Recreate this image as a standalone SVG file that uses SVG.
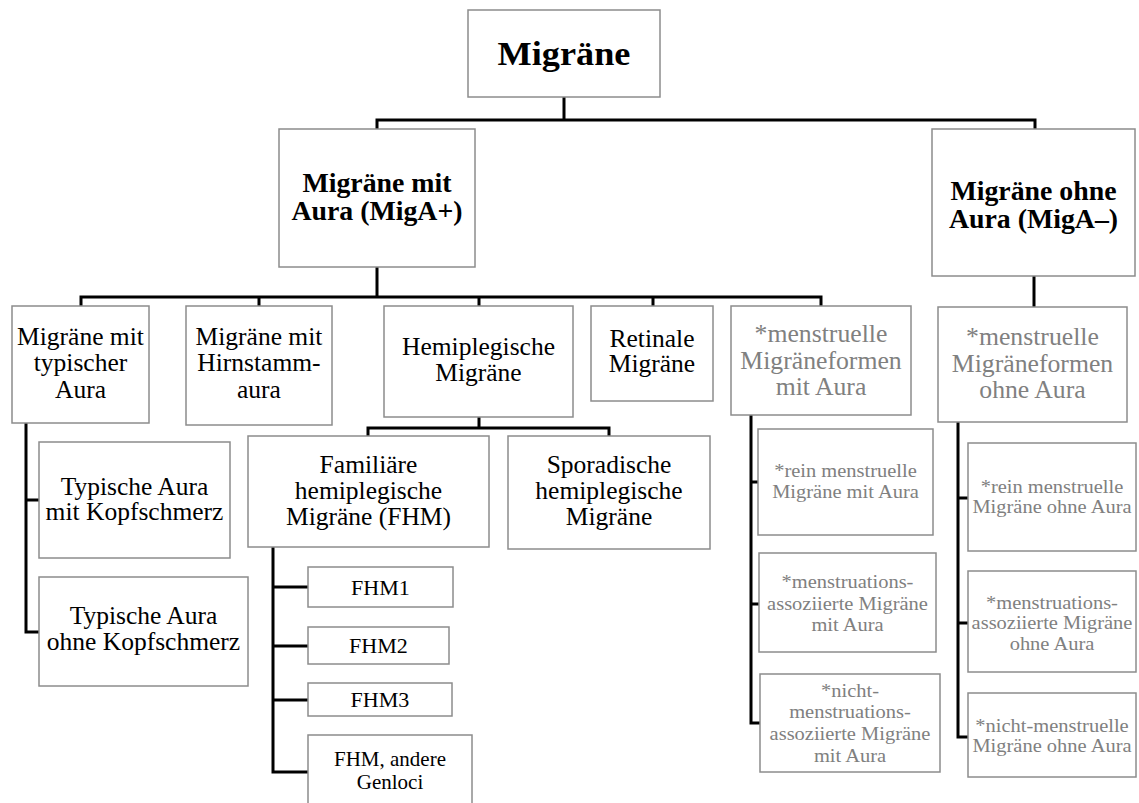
<svg xmlns="http://www.w3.org/2000/svg" width="1139" height="803" viewBox="0 0 1139 803">
<style>
  .box { fill: #ffffff; stroke: #8c8c8c; stroke-width: 1.5; }
  .con { fill: none; stroke: #000000; stroke-width: 3; stroke-linecap: square; }
  text { font-family: "Liberation Serif", "Times New Roman", serif; text-anchor: middle; fill: #000000;
         transform-box: fill-box; transform-origin: center; transform: scaleX(1.05); }
  .root { font-size: 34.5px; font-weight: bold; }
  .l1 { font-size: 26.5px; font-weight: bold; }
  .reg { font-size: 24.3px; }
  .fhm { font-size: 21px; }
  .fhm2l { font-size: 20px; }
  .g1 { font-size: 24.5px; fill: #808080; }
  .g2 { font-size: 19.5px; fill: #808080; }
</style>
<rect width="1139" height="803" fill="#ffffff"/>

<g id="connectors">
  <path class="con" d="M564,97 V120 M377,120 H1035 M377,120 V129 M1035,120 V129"/>
  <path class="con" d="M377,267 V297 M81,297 H821 M81,297 V306 M259,297 V306 M479,297 V306 M653,297 V306 M821,297 V306"/>
  <path class="con" d="M1034,276 V307"/>
  <path class="con" d="M26,423 V632 M26,500 H39 M26,632 H39"/>
  <path class="con" d="M479,417 V428 M368,428 H609 M368,428 V436 M609,428 V436"/>
  <path class="con" d="M273,547 V772 M273,587 H308 M273,646 H308 M273,700 H308 M273,772 H308"/>
  <path class="con" d="M751,415 V723 M751,482 H758 M751,604 H759 M751,723 H760"/>
  <path class="con" d="M958,422 V737 M958,498 H968 M958,623 H968 M958,737 H968"/>
</g>

<g id="root">
  <rect class="box" x="468" y="10" width="192" height="87"/>
  <text class="root" x="564" y="65">Migräne</text>
</g>

<g id="migA_plus">
  <rect class="box" x="279" y="129" width="196" height="138"/>
  <text class="l1" x="377" y="192"><tspan x="377">Migräne mit</tspan><tspan x="377" y="220">Aura (MigA+)</tspan></text>
</g>

<g id="migA_minus">
  <rect class="box" x="932" y="129" width="203" height="147"/>
  <text class="l1" x="1033.5" y="200"><tspan x="1033.5">Migräne ohne</tspan><tspan x="1033.5" y="228">Aura (MigA–)</tspan></text>
</g>

<g id="typische_aura">
  <rect class="box" x="12" y="306" width="137" height="117"/>
  <text class="reg" x="80.5" y="345"><tspan x="80.5">Migräne mit</tspan><tspan x="80.5" y="371.5">typischer</tspan><tspan x="80.5" y="398">Aura</tspan></text>
</g>

<g id="hirnstamm">
  <rect class="box" x="186" y="306" width="146" height="119"/>
  <text class="reg" x="259" y="345"><tspan x="259">Migräne mit</tspan><tspan x="259" y="371.5">Hirnstamm-</tspan><tspan x="259" y="398">aura</tspan></text>
</g>

<g id="hemiplegisch">
  <rect class="box" x="384" y="306" width="189" height="111"/>
  <text class="reg" x="478.5" y="355"><tspan x="478.5">Hemiplegische</tspan><tspan x="478.5" y="381">Migräne</tspan></text>
</g>

<g id="retinal">
  <rect class="box" x="591" y="306" width="122" height="95"/>
  <text class="reg" x="652" y="347"><tspan x="652">Retinale</tspan><tspan x="652" y="372">Migräne</tspan></text>
</g>

<g id="menstruell_mit">
  <rect class="box" x="731" y="306" width="180" height="109"/>
  <text class="g1" x="821" y="342"><tspan x="821">*menstruelle</tspan><tspan x="821" y="369">Migräneformen</tspan><tspan x="821" y="395">mit Aura</tspan></text>
</g>

<g id="menstruell_ohne">
  <rect class="box" x="938" y="307" width="189" height="115"/>
  <text class="g1" x="1032.5" y="345"><tspan x="1032.5">*menstruelle</tspan><tspan x="1032.5" y="372">Migräneformen</tspan><tspan x="1032.5" y="398">ohne Aura</tspan></text>
</g>

<g id="typ_mit_kopf">
  <rect class="box" x="39" y="442" width="191" height="116"/>
  <text class="reg" x="134.5" y="495"><tspan x="134.5">Typische Aura</tspan><tspan x="134.5" y="520">mit Kopfschmerz</tspan></text>
</g>

<g id="typ_ohne_kopf">
  <rect class="box" x="39" y="577" width="209" height="109"/>
  <text class="reg" x="143.5" y="624"><tspan x="143.5">Typische Aura</tspan><tspan x="143.5" y="650">ohne Kopfschmerz</tspan></text>
</g>

<g id="fhm">
  <rect class="box" x="248" y="436" width="241" height="111"/>
  <text class="reg" x="368.5" y="473"><tspan x="368.5">Familiäre</tspan><tspan x="368.5" y="499">hemiplegische</tspan><tspan x="368.5" y="525">Migräne (FHM)</tspan></text>
</g>

<g id="sporadisch">
  <rect class="box" x="508" y="436" width="202" height="113"/>
  <text class="reg" x="609" y="473"><tspan x="609">Sporadische</tspan><tspan x="609" y="499">hemiplegische</tspan><tspan x="609" y="525">Migräne</tspan></text>
</g>

<g id="fhm1">
  <rect class="box" x="308" y="567" width="145" height="40"/>
  <text class="fhm" x="380.5" y="595">FHM1</text>
</g>

<g id="fhm2">
  <rect class="box" x="308" y="627" width="141" height="37"/>
  <text class="fhm" x="378.5" y="653">FHM2</text>
</g>

<g id="fhm3">
  <rect class="box" x="308" y="683" width="144" height="33"/>
  <text class="fhm" x="380" y="707">FHM3</text>
</g>

<g id="fhm_andere">
  <rect class="box" x="308" y="735" width="164" height="80"/>
  <text class="fhm2l" x="390" y="766"><tspan x="390">FHM, andere</tspan><tspan x="390" y="789">Genloci</tspan></text>
</g>

<g id="rein_mit">
  <rect class="box" x="758" y="429" width="175" height="106"/>
  <text class="g2" x="845.5" y="477"><tspan x="845.5">*rein menstruelle</tspan><tspan x="845.5" y="498">Migräne mit Aura</tspan></text>
</g>

<g id="assoz_mit">
  <rect class="box" x="759" y="553" width="177" height="99"/>
  <text class="g2" x="847.5" y="588"><tspan x="847.5">*menstruations-</tspan><tspan x="847.5" y="610">assoziierte Migräne</tspan><tspan x="847.5" y="631">mit Aura</tspan></text>
</g>

<g id="nicht_mit">
  <rect class="box" x="760" y="674" width="180" height="98"/>
  <text class="g2" x="850" y="697"><tspan x="850">*nicht-</tspan><tspan x="850" y="718">menstruations-</tspan><tspan x="850" y="740">assoziierte Migräne</tspan><tspan x="850" y="762">mit Aura</tspan></text>
</g>

<g id="rein_ohne">
  <rect class="box" x="968" y="443" width="168" height="108"/>
  <text class="g2" x="1052" y="493"><tspan x="1052">*rein menstruelle</tspan><tspan x="1052" y="513">Migräne ohne Aura</tspan></text>
</g>

<g id="assoz_ohne">
  <rect class="box" x="968" y="571" width="168" height="101"/>
  <text class="g2" x="1052" y="609"><tspan x="1052">*menstruations-</tspan><tspan x="1052" y="629">assoziierte Migräne</tspan><tspan x="1052" y="650">ohne Aura</tspan></text>
</g>

<g id="nicht_ohne">
  <rect class="box" x="968" y="693" width="168" height="84"/>
  <text class="g2" x="1052" y="732"><tspan x="1052">*nicht-menstruelle</tspan><tspan x="1052" y="752">Migräne ohne Aura</tspan></text>
</g>
</svg>
